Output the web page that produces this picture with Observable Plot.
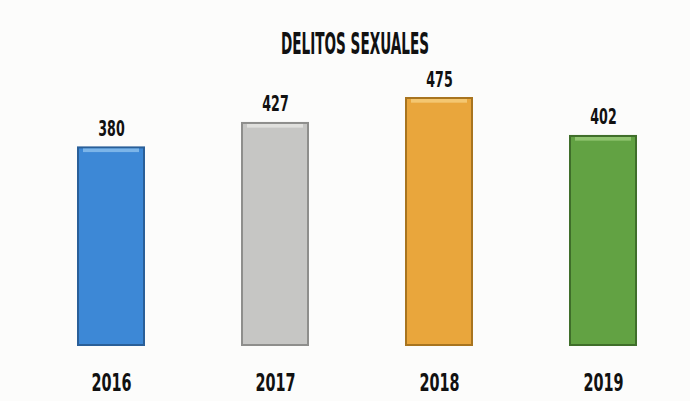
<!DOCTYPE html>
<html>
<head>
<meta charset="utf-8">
<script src="https://cdn.jsdelivr.net/npm/d3@7"></script>
<script src="https://cdn.jsdelivr.net/npm/@observablehq/plot@0.6"></script>
<style>
  html, body { margin: 0; padding: 0; background: #fcfcfb; width: 690px; height: 401px; overflow: hidden; }
  #title { height: 60px; position: relative; }
  #title span { position: absolute; left: 355px; top: 28px; font-family: "Liberation Sans Narrow", "DejaVu Sans Condensed", "Liberation Sans", sans-serif; font-weight: bold; font-size: 31px; line-height: 31px; color: #111; white-space: nowrap; transform-origin: 0 0; }
</style>
</head>
<body>
<div id="title"><span>DELITOS SEXUALES</span></div>
<div id="chart"></div>
<script>
const years = ["2016", "2017", "2018", "2019"];
const values = [380, 427, 475, 402];
const fills = ["#3d88d6", "#c6c6c4", "#e9a63c", "#62a243"];
const strokes = ["#2a5f98", "#8e8e8c", "#a8741f", "#3f6e2a"];
const highlights = ["#8cc0ee", "#e6e6e4", "#f6cf7e", "#9ccd7c"];

const data = years.map((year, i) => ({year, value: values[i]}));
const font = '"Liberation Sans Narrow", "DejaVu Sans Condensed", "Liberation Sans", sans-serif';

const plot = Plot.plot({
  width: 690,
  height: 341,
  marginLeft: 44,
  marginRight: 21,
  marginTop: 38,
  marginBottom: 56,
  style: {background: "transparent", fontFamily: font},
  x: {domain: years, paddingInner: 0.6, paddingOuter: 0.2, axis: null},
  y: {domain: [0, 475], axis: null},
  color: {domain: years, range: fills},
  marks: [
    Plot.barY(data, {x: "year", y: "value", fill: "year", stroke: (d) => strokes[years.indexOf(d.year)], strokeWidth: 2}),
    Plot.barY(data, {x: "year", y1: (d) => d.value - 9, y2: (d) => d.value - 2, fill: (d) => highlights[years.indexOf(d.year)], insetLeft: 5, insetRight: 5, fillOpacity: 0.8}),
    Plot.text(data, {x: "year", y: "value", text: (d) => String(d.value), lineAnchor: "bottom", dy: -12, fontSize: 22, fontWeight: "bold", fill: "#111"}),
    Plot.text(years, {x: (d) => d, text: (d) => d, frameAnchor: "bottom", dy: 37, lineAnchor: "middle", fontSize: 25, fontWeight: "bold", fill: "#111"})
  ]
});
document.getElementById("chart").appendChild(plot);

// Condense glyphs to mimic the narrow display face of the original
d3.select(plot).selectAll("text").each(function () {
  const w = this.getComputedTextLength();
  this.setAttribute("textLength", (w * 0.64).toFixed(1));
  this.setAttribute("lengthAdjust", "spacingAndGlyphs");
});
const span = document.querySelector("#title span");
const sw = span.getBoundingClientRect().width;
const s = 148 / sw;
span.style.transform = `translateX(-74px) scaleX(${s})`;
</script>
</body>
</html>
